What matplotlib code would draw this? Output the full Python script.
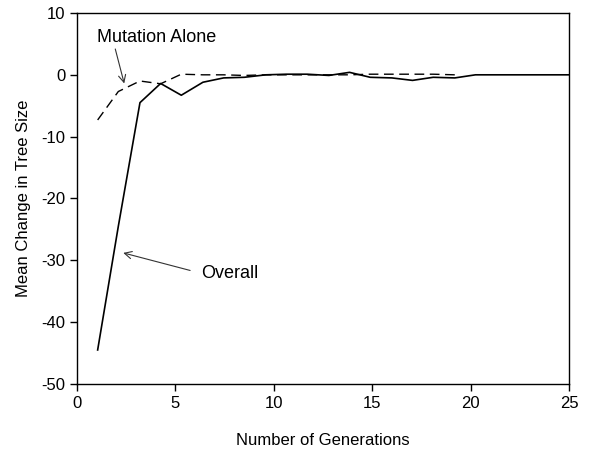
import matplotlib
matplotlib.use("Agg")
import matplotlib.pyplot as plt

plt.rcParams["font.family"] = ["Liberation Sans", "DejaVu Sans"]
plt.rcParams["axes.unicode_minus"] = False

# generations
gen = [1.05, 2.1, 3.2, 4.25, 5.3, 6.4, 7.45, 8.5, 9.6, 10.65, 11.7, 12.8,
       13.85, 14.9, 16.0, 17.05, 18.1, 19.2, 20.25, 21.3, 22.4, 23.45, 24.5, 25.0]
overall = [-44.5, -24.5, -4.5, -1.4, -3.3, -1.2, -0.5, -0.4, 0.0, 0.1, 0.1, -0.1,
           0.4, -0.4, -0.5, -0.9, -0.4, -0.5, 0.0, 0.0, 0.0, 0.0, 0.0, 0.0]
mutation = [-7.3, -2.7, -1.0, -1.45, 0.1, 0.0, 0.0, -0.1, 0.0, 0.0, 0.0, 0.0,
            0.0, 0.1, 0.1, 0.1, 0.1, 0.0]

fig = plt.figure(figsize=(6.12, 4.51), dpi=100)
ax = fig.add_axes([0.1258, 0.1486, 0.8039, 0.8226])

ax.plot(gen, overall, color="black", lw=1.2)
ax.plot(gen[:len(mutation)], mutation, color="black", lw=1.0, dashes=(7, 4))

ax.annotate("Mutation Alone", xy=(2.4, -1.4), xytext=(1.0, 6.0),
            fontsize=13, ha="left", va="center",
            arrowprops=dict(arrowstyle="->", color="#333333", lw=0.8,
                            shrinkA=0, shrinkB=0, relpos=(0.15, 0.0)))
ax.annotate("Overall", xy=(2.35, -28.8), xytext=(6.3, -32.1),
            fontsize=13, ha="left", va="center",
            arrowprops=dict(arrowstyle="->", color="#333333", lw=0.8,
                            shrinkA=6, shrinkB=0, relpos=(0.0, 0.5)))

ax.set_xlim(0, 25)
ax.set_ylim(-50, 10)
ax.set_xticks([0, 5, 10, 15, 20, 25])
ax.set_yticks([10, 0, -10, -20, -30, -40, -50])
ax.tick_params(direction="out", length=5, width=1, labelsize=12)
ax.tick_params(top=False, right=False)
for s in ax.spines.values():
    s.set_linewidth(1.0)

ax.set_xlabel("Number of Generations", fontsize=12, labelpad=16)
ax.set_ylabel("Mean Change in Tree Size", fontsize=12, labelpad=7)

fig.savefig("out.png", dpi=100)
